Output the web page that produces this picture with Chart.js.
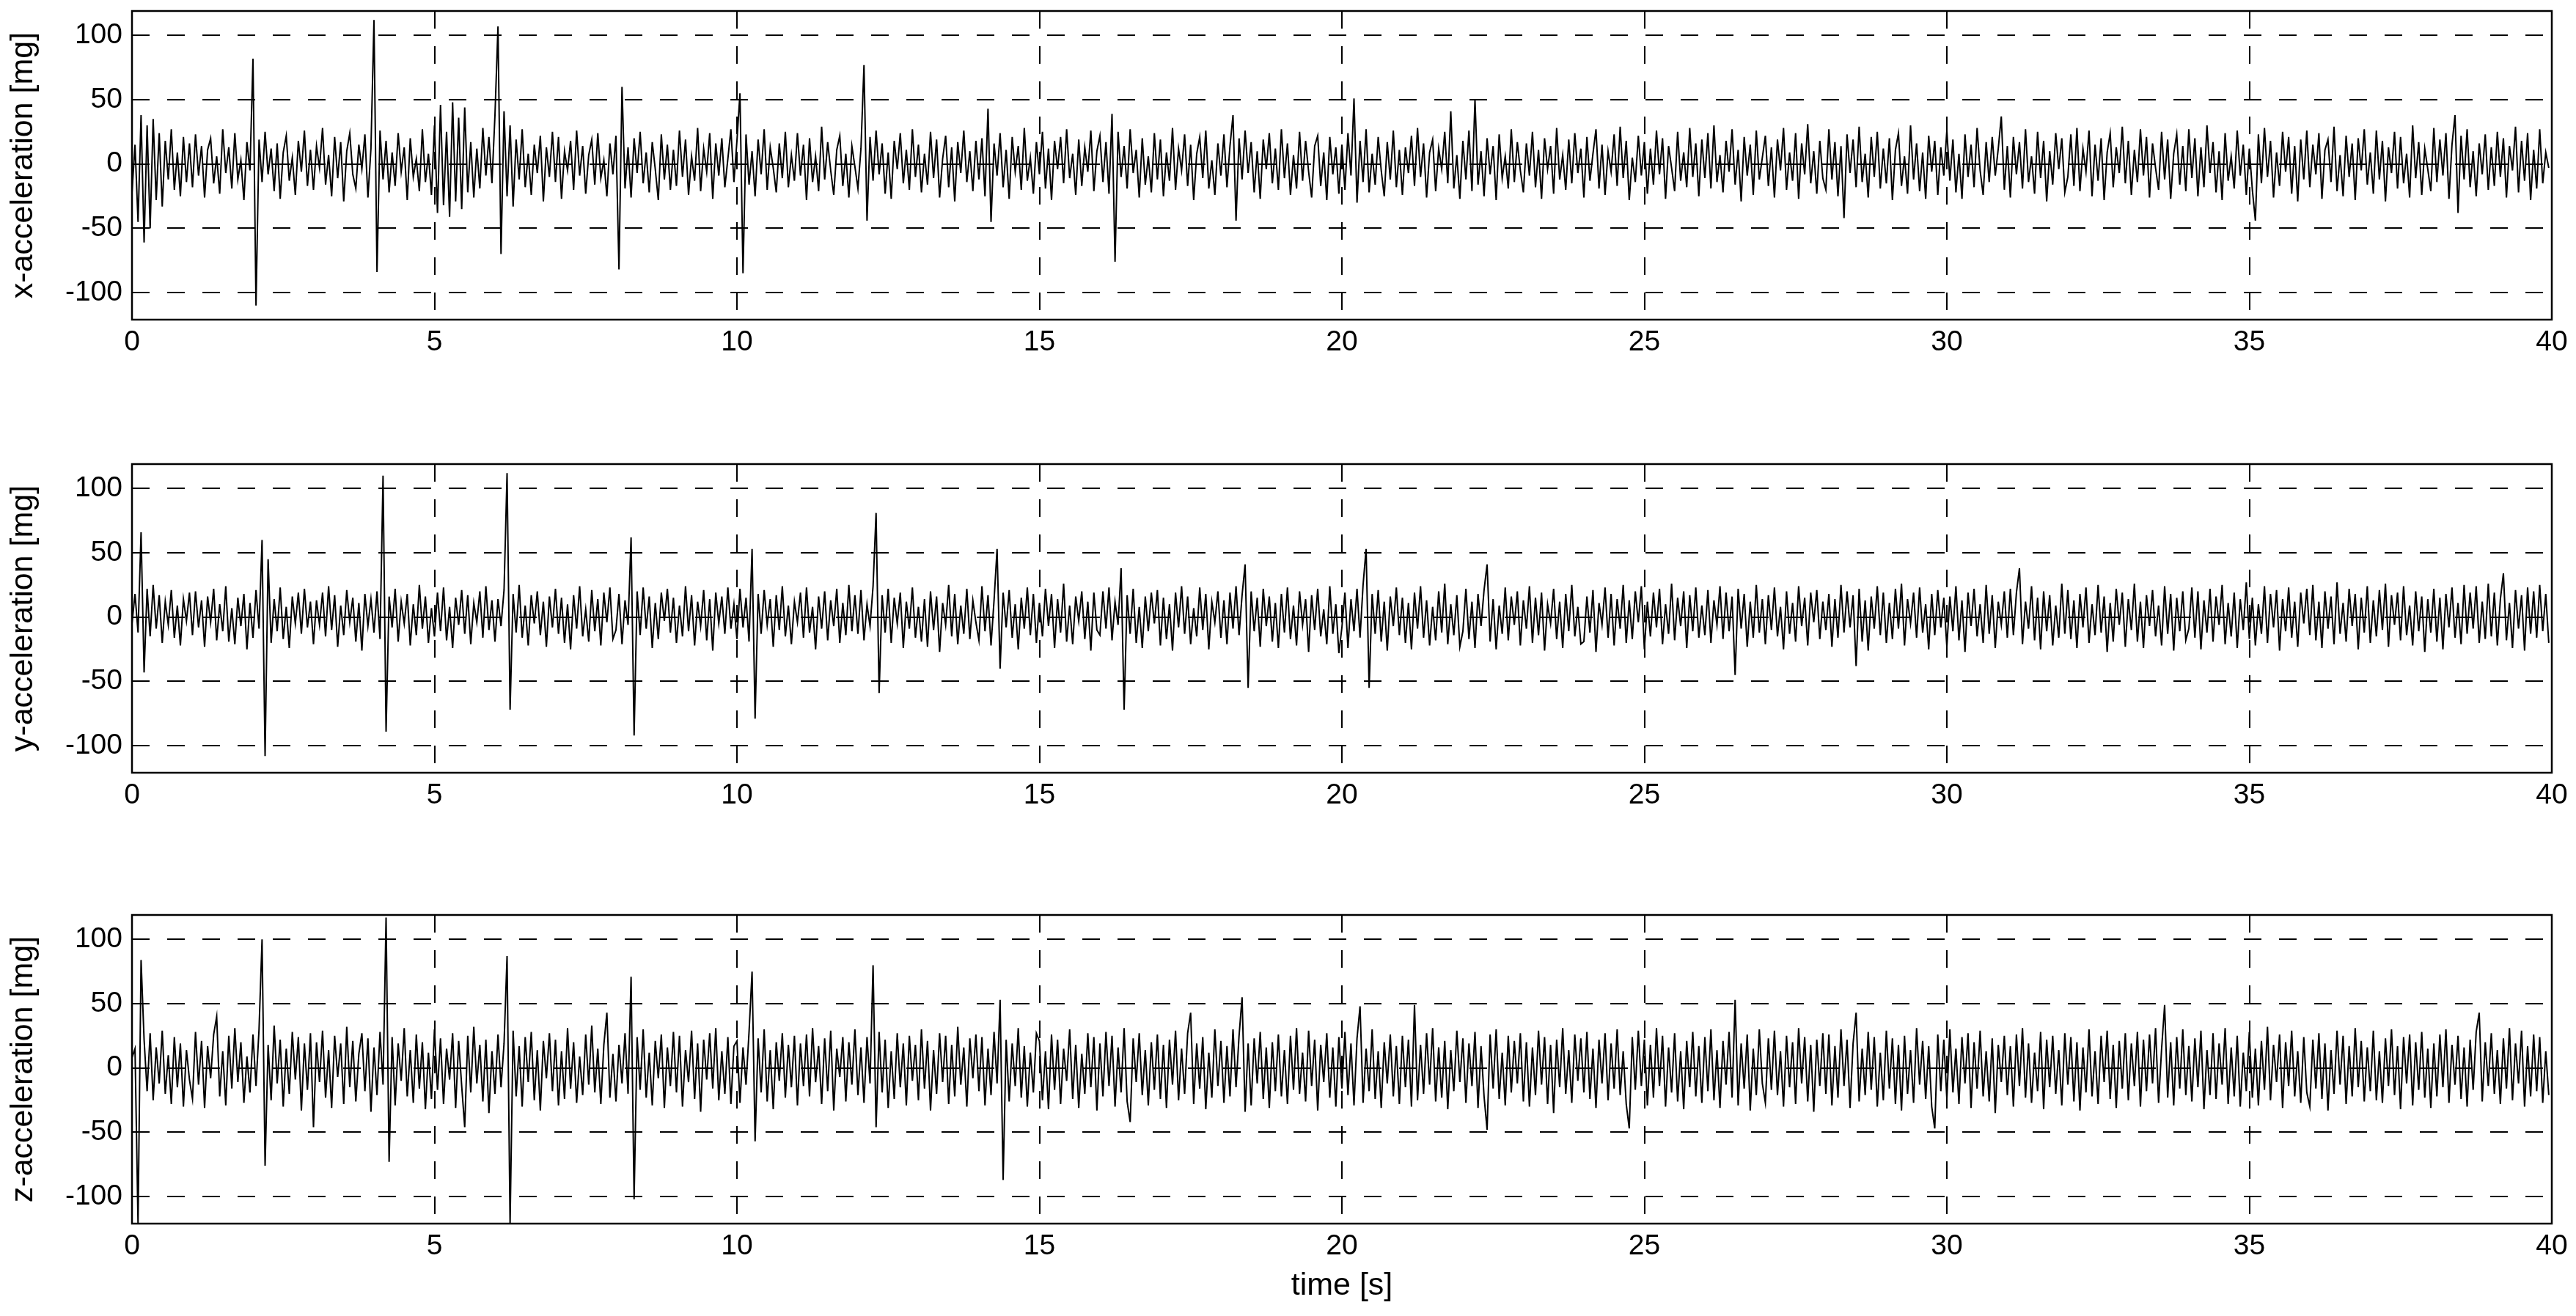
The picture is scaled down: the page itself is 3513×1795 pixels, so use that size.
<!DOCTYPE html>
<html>
<head>
<meta charset="utf-8">
<script src="https://cdn.jsdelivr.net/npm/chart.js@4/dist/chart.umd.min.js"></script>
<style>
  html, body { margin: 0; padding: 0; background: #fff; }
  body { width: 3513px; height: 1795px; position: relative; overflow: hidden; }
  .plot { position: absolute; left: 0; width: 3513px; }
</style>
</head>
<body>
<div class="plot" style="top:0px;height:520px"><canvas id="chart_x"></canvas></div>
<div class="plot" style="top:618px;height:520px"><canvas id="chart_y"></canvas></div>
<div class="plot" style="top:1233px;height:562px"><canvas id="chart_z"></canvas></div>
<script>
var duration = 40; // seconds
var xTicks = [0, 5, 10, 15, 20, 25, 30, 35, 40];
var yTicks = [-100, -50, 0, 50, 100];
var yMin = -121;
var yMax = 119;

// acceleration samples [mg], 20 per second
var accX = [
  -22,15,-45,38,-61,30,-50,35,-28,24,-33,18,-12,27,-20,9,-25,21,-14,16,
  -18,23,-9,14,-26,11,20,-15,6,-23,27,-7,13,-19,24,-12,3,-28,17,-5,
  82,-110,19,-14,25,-8,12,-21,16,-27,9,22,-13,5,-24,18,-6,26,-17,11,
  -20,14,-3,28,-16,7,-25,21,-11,17,-29,10,24,-8,-19,15,-4,23,-26,12,
  112,-84,26,-12,18,-22,9,-17,24,-6,13,-28,20,-10,4,-21,27,-14,8,-24,
  30,-38,46,-32,25,-41,48,-29,36,-35,44,-22,17,-26,12,-19,28,-9,21,-15,
  38,107,-70,41,-25,30,-33,19,-12,27,-18,8,-24,15,-7,22,-29,13,-10,25,
  -14,21,-27,10,-5,18,-20,26,-9,14,-23,7,19,-16,24,-11,3,-25,16,-8,
  22,-82,60,-19,13,-26,20,-7,25,-15,9,-22,17,-4,-28,23,-12,15,-20,11,
  -17,26,-10,19,-24,6,-13,28,-21,12,-6,24,-27,16,-9,20,-18,4,27,-14,
  18,55,-85,23,-16,10,-25,19,-8,27,-20,13,-3,-22,16,-11,25,-18,7,-13,
  24,-9,15,-28,20,-14,6,-21,29,-12,17,-5,-24,11,22,-17,8,-26,14,-2,
  -19,12,77,-44,21,-13,26,-8,16,-23,9,-27,18,-4,24,-15,11,-20,27,-10,
  15,-22,8,-16,25,-11,19,-26,4,22,-18,13,-29,17,-7,26,-14,10,-21,18,
  -12,20,-25,43,-45,16,-9,24,-18,11,-27,21,-6,14,-20,28,-13,5,-23,17,
  -8,25,-19,12,-28,18,-4,21,-15,27,-11,8,-24,19,-17,13,-6,26,-21,10,
  22,-14,17,-23,39,-76,25,-10,14,-19,27,-7,11,-26,20,-16,6,-22,24,-12,
  19,-25,9,-13,28,-20,12,-5,23,-17,15,-28,8,21,-11,26,-19,3,-24,16,
  -9,23,-18,14,38,-44,20,-12,26,-7,17,-22,10,-27,19,-4,24,-15,12,-20,
  27,-11,16,-24,7,-19,25,-13,18,-6,-26,14,22,-17,9,-28,21,-8,13,-23,
  15,-20,24,-9,51,-30,18,-14,27,-22,8,-16,21,-5,-25,17,-12,26,-18,11,
  -24,13,-7,22,-17,28,-10,16,-26,9,19,-21,12,-4,25,-15,41,-19,7,-27,
  18,-12,26,-21,50,-16,10,-25,20,-8,14,-28,23,-11,6,-19,27,-14,17,-5,
  -22,16,-9,25,-18,11,-27,20,-4,14,-23,28,-12,7,-20,19,-15,24,-7,12,
  -26,21,-13,8,27,-19,15,-24,10,-6,23,-17,29,-11,18,-28,5,-14,22,-9,
  17,-23,12,-16,26,-8,20,-27,14,-3,-21,25,-13,9,-18,28,-10,16,-25,19,
  -11,24,-19,30,-14,7,-22,18,-6,27,-16,11,-29,21,-9,15,-24,26,-12,5,
  22,-17,13,-26,19,-5,28,-20,9,-13,24,-27,16,-8,31,-15,10,-23,18,-11,
  -20,27,-12,17,-25,14,-42,23,-7,19,-18,29,-14,8,-26,21,-10,25,-19,12,
  -15,20,-28,11,24,-17,6,-23,30,-12,16,-21,9,-27,22,-6,18,-24,13,-9,
  26,-13,19,-22,8,-27,23,-10,15,-18,28,-5,-24,17,-14,21,-9,12,37,-20,
  14,-26,21,-8,17,-19,27,-14,6,-23,25,-11,18,-29,10,-16,24,-4,20,-22,
  -10,23,-17,28,-21,12,-6,26,-25,15,-13,20,-28,9,24,-18,13,-7,29,-15,
  18,-24,11,-14,27,-9,21,-26,16,-3,-20,25,-12,19,-27,8,23,-16,14,-21,
  27,-11,20,-25,13,-18,30,-7,17,-22,10,-28,24,-13,6,-19,26,-9,15,-24,
  12,-20,-44,23,-15,28,-10,18,-26,9,-17,25,-6,21,-23,14,-29,19,-12,26,
  -18,15,-8,24,-27,11,19,-14,29,-21,7,-25,22,-10,16,-28,20,-5,27,-16,
  9,-23,26,-12,18,-29,13,-7,25,-19,21,-15,8,-26,30,-11,17,-24,12,-4,
  -21,28,-14,19,-9,24,-27,15,38,-38,22,-12,27,-18,10,-25,16,-8,23,-20,
  13,-17,25,-10,20,-26,14,-5,29,-22,18,-13,24,-28,11,-19,27,-15,9,-3
];

var accY = [
  -5,18,-12,66,-43,22,-15,25,-9,17,-20,12,-6,21,-16,9,-22,14,-3,19,
  -14,20,-8,13,-23,16,-4,22,-18,10,-11,24,-19,7,-21,15,-7,18,-25,11,
  -16,21,-9,60,-108,45,-20,14,-11,23,-17,8,-24,16,-5,19,-13,22,-8,12,
  -21,13,-6,19,-15,24,-10,17,-23,9,-14,21,-4,15,-19,11,-26,18,-7,14,
  -12,20,-17,110,-89,16,-8,22,-19,12,-5,18,-22,10,-14,25,-9,16,-20,7,
  -15,19,-11,23,-18,8,-24,15,-6,21,-13,17,-21,11,-4,20,-16,24,-10,13,
  -19,14,-7,21,112,-72,18,-12,25,-16,9,-22,17,-5,20,-14,12,-23,16,-8,
  22,-13,15,-20,10,-25,17,-9,24,-15,6,-19,21,-11,14,-22,19,-4,23,-17,
  -10,18,-21,13,-6,62,-92,20,-14,23,-9,16,-24,11,-17,19,-3,22,-12,15,
  -20,9,-15,24,-11,17,-22,12,-7,21,-18,14,-26,19,-5,16,-13,23,-9,10,
  -17,22,-8,15,-19,53,-79,18,-13,21,-6,14,-23,17,-10,24,-15,9,-21,12,
  -4,19,-16,23,-12,8,-25,16,-9,20,-18,13,-7,22,-20,11,-14,25,-11,17,
  -13,21,-18,10,-7,24,81,-59,17,-12,22,-20,15,-5,19,-24,12,-9,23,-16,
  8,-19,14,-23,20,-10,16,-27,11,-6,25,-15,18,-21,9,-13,22,-17,13,-4,
  -18,24,-11,17,-22,13,53,-40,19,-8,21,-16,10,-25,15,-9,23,-14,18,-20,
  11,-15,22,-7,18,-24,14,-12,26,-19,9,-21,16,-3,20,-17,12,-26,19,-10,
  -14,20,-9,23,-18,12,-6,38,-72,17,-13,22,-20,8,-24,16,-11,19,-5,21,
  -22,15,-17,10,-26,19,-8,24,-13,16,-21,7,-15,23,-10,18,-25,12,-4,20,
  -16,13,-21,19,-9,24,-14,17,41,-55,20,-11,15,-23,22,-7,16,-19,11,-24,
  18,-12,23,-17,9,-22,20,-6,14,-27,17,-10,22,-15,6,-21,24,-13,10,-28,
  -8,19,-24,14,-11,22,-16,25,53,-55,18,-13,21,-19,12,-26,16,-7,23,-14,
  15,-20,11,-25,19,-9,24,-16,13,-22,8,-18,20,-12,26,-21,10,-14,17,-23,
  -11,22,-17,12,-24,18,-7,21,41,-19,14,-25,9,-13,23,-18,16,-6,20,-22,
  13,-9,24,-20,15,-14,19,-26,10,-5,22,-17,12,-24,18,-11,25,-15,8,-21,
  -19,16,-12,21,-27,11,-6,23,-16,18,-22,14,-9,25,-20,13,-17,20,-4,24,
  -25,12,-15,19,-8,22,-21,10,-13,26,-18,15,-7,20,-24,17,-11,23,-16,9,
  -14,21,-20,13,-6,24,-17,19,-11,16,-45,22,-9,18,-23,12,-16,25,-12,14,
  -21,17,-10,23,-15,8,-25,20,-13,11,-19,24,-7,15,-22,19,-4,21,-17,12,
  -10,18,-23,14,-16,25,-12,20,-8,17,-38,22,-19,13,-26,16,-9,24,-14,19,
  -20,11,-17,22,-9,26,-22,14,-5,19,-16,23,-12,10,-25,18,-14,21,-8,15,
  -23,16,-11,24,-18,13,-27,19,-7,22,-15,10,-20,25,-13,17,-24,12,-6,20,
  -16,22,-14,19,38,-21,12,-9,24,-18,15,-25,20,-11,17,-22,9,-16,26,-13,
  21,-17,13,-24,18,-8,23,-20,10,-14,25,-12,16,-27,11,-19,22,-6,19,-23,
  14,-10,26,-19,12,-24,17,-7,21,-15,9,-22,24,-13,18,-26,15,-11,20,-18,
  -9,23,-16,20,-25,13,-12,22,-19,16,-6,25,-21,11,-15,19,-24,14,-10,27,
  -17,15,-22,10,-13,24,-20,18,-8,21,-26,14,-11,23,-16,12,-23,19,-5,22,
  -14,25,-18,12,-24,20,-9,16,-21,27,-13,11,-19,22,-7,18,-25,15,-12,24,
  -20,13,-15,21,-10,26,-23,17,-6,19,-18,24,-14,9,-22,20,-11,16,-27,14,
  -12,22,-19,15,-25,18,-8,23,-16,11,-21,25,-13,19,-9,24,-20,12,-17,26,
  -15,19,-22,14,34,-18,11,-24,21,-9,17,-26,23,-13,20,-16,25,-11,18,-20
];

var accZ = [
  8,15,-121,84,22,-18,27,-25,16,-12,29,-20,10,-28,24,-15,19,-30,14,-9,
  -24,28,-13,21,-31,17,-8,26,40,-22,13,-29,25,-16,31,-11,20,-27,9,-19,
  26,-14,30,100,-76,18,-25,33,-12,22,-30,15,-20,28,-9,24,-33,19,-17,27,
  -46,20,-11,29,-23,14,-31,25,-7,19,-28,32,-15,21,-26,11,27,-18,23,-34,
  16,-21,28,-13,117,-73,24,-29,19,-10,31,-22,14,-27,26,-16,20,-32,12,-24,
  30,-17,23,-28,15,-9,27,-31,21,-14,-46,25,-19,32,-12,18,-26,22,-35,13,
  -20,26,-15,19,87,-121,29,-22,17,-30,24,-11,28,-25,14,-33,21,-8,27,-18,
  22,-29,13,-24,31,-16,20,-27,9,-21,26,-13,33,-19,15,-28,18,43,-23,11,
  -26,18,-12,27,-20,71,-102,24,-17,30,-23,12,-29,21,-8,26,-31,16,-14,28,
  -19,25,-30,14,-11,29,-24,19,-34,22,-9,27,-16,31,-25,13,-20,24,-28,17,
  21,-27,16,-13,28,75,-57,23,-19,30,-26,14,-32,20,-10,27,-23,18,-15,25,
  -29,19,-14,26,-22,31,-11,17,-28,23,-18,29,-33,15,-7,24,-26,20,-13,30,
  -21,16,-27,24,-12,80,-46,28,-19,22,-31,13,-24,27,-15,19,-29,25,-10,18,
  -25,30,-16,21,-33,14,-20,27,-11,25,-28,18,-22,32,-13,16,-30,23,-8,26,
  -18,24,-29,15,-21,28,-12,53,-87,22,-26,19,-14,31,-23,17,-30,12,-19,27,
  21,-25,13,-32,26,-17,22,-28,15,-10,30,-24,18,-31,11,-20,27,-15,24,-33,
  19,-22,28,-14,25,-30,16,-19,31,-26,-42,23,-11,27,-21,14,-29,20,-17,26,
  -24,18,-31,22,-13,29,-25,15,-20,27,43,-28,19,-16,24,-32,12,-23,30,-14,
  21,-27,17,-22,30,-15,25,55,-34,19,-29,23,-12,28,-24,16,-31,20,-18,26,
  -22,14,-28,25,-17,31,-20,12,-26,29,-14,22,-33,18,-11,27,-23,16,-30,24,
  -16,28,-21,19,-29,23,48,-27,15,-18,30,-24,13,-31,20,-12,26,-22,17,-28,
  25,-15,22,-30,49,-25,18,-20,27,-13,31,-26,16,-23,21,-32,14,-18,29,-11,
  23,-27,19,-14,28,-31,17,-22,-48,26,-16,30,-24,12,-29,25,-19,21,-12,27,
  -26,20,-30,16,-21,29,-13,24,-28,18,-35,22,-15,31,-20,14,-27,26,-10,23,
  -19,28,-24,15,-31,22,-12,27,-25,19,-16,30,-21,13,-28,-47,24,-17,29,-14,
  22,-29,18,-23,31,-14,25,-30,16,-19,27,-26,13,-32,21,-15,28,-22,17,-27,
  24,-18,30,-25,14,-31,21,-13,28,-23,53,-29,19,-16,26,-33,15,-21,30,-12,
  -27,23,-17,29,-21,13,-30,25,-15,20,-28,31,-12,24,-26,18,-34,22,-14,27,
  -20,26,-29,17,-23,30,-14,22,-31,19,43,-26,15,-21,28,-17,24,-30,12,-25,
  29,-16,23,-28,18,-33,25,-20,14,-27,31,-13,21,-24,17,-30,-47,26,-18,22,
  -24,30,-19,15,-28,24,-12,27,-31,20,-16,29,-22,13,-26,23,-35,18,-11,25,
  -21,17,-30,26,-14,31,-23,19,-27,12,-18,28,-32,22,-15,25,-20,14,-29,27,
  -13,24,-26,20,-33,16,-19,30,-22,13,-28,25,-11,29,-24,18,-31,21,-16,27,
  -25,19,-14,28,-30,22,-18,26,-12,31,-27,15,49,-23,20,-29,24,-16,30,-21,
  17,-26,23,-15,29,-32,14,-21,27,-24,19,-13,31,-28,16,-22,25,-30,12,-18,
  28,-23,15,-29,21,-17,32,-25,18,-11,26,-31,20,-14,29,-22,13,-27,24,-19,
  -30,22,-16,27,-24,19,-33,14,-20,29,-13,25,-28,17,-22,31,-15,21,-26,16,
  -18,29,-25,13,-27,23,-14,30,-21,17,-32,24,-12,26,-29,20,-17,28,-23,15,
  -31,19,-22,26,-15,30,-27,18,-13,25,-24,16,-30,22,-17,28,43,-26,20,-14,
  27,-20,14,-28,23,-16,31,-25,19,-12,29,-30,17,-22,26,-18,24,-27,13,-21
];

var fontFamily = '"Liberation Sans", Arial, Helvetica, sans-serif';

function points(values) {
  var step = duration / values.length;
  return values.map(function(v, i) {
    return { x: i * step, y: v };
  });
}

// box round the plot area, like matlab's "box on"
var frame = {
  id: 'frame',
  afterDraw: function(chart) {
    var a = chart.chartArea;
    var ctx = chart.ctx;
    ctx.save();
    ctx.strokeStyle = '#000';
    ctx.lineWidth = 2.5;
    ctx.strokeRect(a.left, a.top, a.right - a.left, a.bottom - a.top);
    ctx.restore();
  }
};

function makeChart(id, values, yLabel, xLabel, xAxisHeight) {
  return new Chart(document.getElementById(id), {
    type: 'line',
    data: {
      datasets: [{
        data: points(values),
        borderColor: '#000',
        borderWidth: 2,
        pointRadius: 0,
        tension: 0,
        fill: false
      }]
    },
    options: {
      responsive: true,
      maintainAspectRatio: false,
      animation: false,
      layout: { padding: { top: 15, right: 33, left: 0, bottom: 0 } },
      plugins: {
        legend: { display: false },
        tooltip: { enabled: false }
      },
      scales: {
        x: {
          type: 'linear',
          min: 0,
          max: duration,
          afterBuildTicks: function(axis) {
            axis.ticks = xTicks.map(function(v) { return { value: v }; });
          },
          afterFit: function(axis) {
            axis.height = xAxisHeight;
            axis.paddingLeft = 0;
            axis.paddingRight = 0;
          },
          grid: { color: '#000', lineWidth: 2, drawTicks: false },
          border: { display: false, dash: [24, 24] },
          ticks: {
            color: '#000',
            font: { family: fontFamily, size: 39 },
            padding: 8,
            maxRotation: 0,
            autoSkip: false
          },
          title: {
            display: !!xLabel,
            text: xLabel,
            color: '#000',
            font: { family: fontFamily, size: 43 },
            padding: { top: 0, bottom: 15 }
          }
        },
        y: {
          type: 'linear',
          min: yMin,
          max: yMax,
          afterBuildTicks: function(axis) {
            axis.ticks = yTicks.map(function(v) { return { value: v }; });
          },
          afterFit: function(axis) {
            axis.width = 180;
            axis.paddingTop = 0;
            axis.paddingBottom = 0;
          },
          grid: { color: '#000', lineWidth: 2, drawTicks: false },
          border: { display: false, dash: [24, 24] },
          ticks: {
            color: '#000',
            font: { family: fontFamily, size: 39 },
            padding: 13
          },
          title: {
            display: true,
            text: yLabel,
            color: '#000',
            font: { family: fontFamily, size: 43 },
            padding: { top: 6, bottom: 0 }
          }
        }
      }
    },
    plugins: [frame]
  });
}

var chart_x = makeChart('chart_x', accX, 'x-acceleration [mg]', '', 84);
var chart_y = makeChart('chart_y', accY, 'y-acceleration [mg]', '', 84);
var chart_z = makeChart('chart_z', accZ, 'z-acceleration [mg]', 'time [s]', 126);
</script>
</body>
</html>
